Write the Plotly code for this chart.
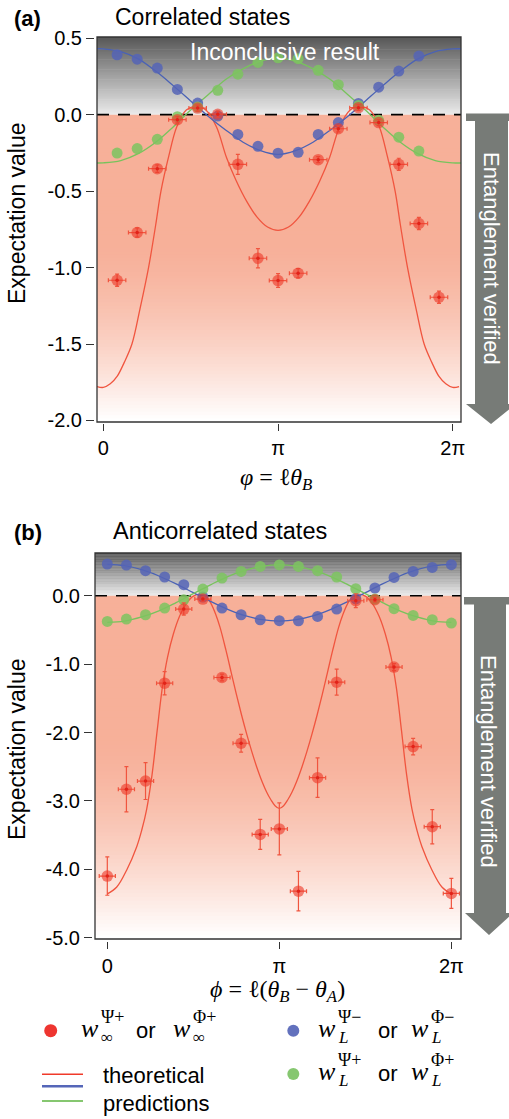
import plotly.graph_objects as go

W, H = 509, 1119

# ---------------- data (x in units of pi) ----------------
# panel (a) correlated states
xa_red = [0.079, 0.194, 0.309, 0.424, 0.540, 0.655, 0.770, 0.885, 1.0, 1.115, 1.230,
          1.345, 1.460, 1.576, 1.691, 1.806, 1.921]
ya_red = [-1.083, -0.771, -0.353, -0.033, 0.043, 0.003, -0.325, -0.939, -1.085, -1.037,
          -0.294, -0.092, 0.046, -0.052, -0.325, -0.712, -1.194]
ea_red = [0.04, 0.03, 0.025, 0.02, 0.02, 0.02, 0.065, 0.063, 0.045, 0.03, 0.02, 0.02,
          0.02, 0.02, 0.04, 0.04, 0.04]
xa_L = [0.079, 0.194, 0.309, 0.424, 0.540, 0.655, 0.770, 0.885, 1.0, 1.115, 1.230,
        1.345, 1.460, 1.576, 1.691, 1.806]
ya_blue = [0.392, 0.363, 0.305, 0.165, 0.076, -0.009, -0.129, -0.207, -0.252, -0.246,
           -0.129, -0.052, 0.073, 0.18, 0.285, 0.383]
ya_green = [-0.251, -0.222, -0.161, -0.013, 0.05, 0.159, 0.265, 0.342, 0.372, 0.366,
            0.29, 0.196, 0.06, -0.037, -0.147, -0.238]

# theory (a)
ta_red_x = [-0.036, 0.0, 0.04, 0.08, 0.12, 0.164, 0.21, 0.259, 0.30, 0.33, 0.375, 0.42,
            0.475, 0.535, 0.59, 0.648, 0.705, 0.76, 0.82, 0.88, 0.94, 1.0,
            1.06, 1.12, 1.18, 1.24, 1.295, 1.352, 1.41, 1.465, 1.525, 1.58, 1.625, 1.67,
            1.70, 1.741, 1.79, 1.836, 1.88, 1.92, 1.96, 2.0, 2.036]
ta_red_y = [-1.778, -1.784, -1.76, -1.71, -1.62, -1.50, -1.27, -1.00, -0.72, -0.50, -0.27,
            -0.08, 0.03, 0.054, 0.028, -0.08, -0.28, -0.43, -0.565, -0.67, -0.735, -0.757,
            -0.735, -0.67, -0.565, -0.43, -0.28, -0.08, 0.028, 0.054, 0.03, -0.08, -0.27,
            -0.50, -0.72, -1.00, -1.27, -1.50, -1.62, -1.71, -1.76, -1.784, -1.778]
ta_x = [-0.036, 0.0, 0.1, 0.2, 0.3, 0.4, 0.5, 0.6, 0.7, 0.8, 0.9, 1.0, 1.1, 1.2, 1.3,
        1.4, 1.5, 1.6, 1.7, 1.8, 1.9, 2.0, 2.047]
ta_blue_y = [0.432, 0.43, 0.413, 0.365, 0.285, 0.19, 0.09, -0.01, -0.10, -0.18, -0.235,
             -0.26, -0.235, -0.18, -0.10, -0.01, 0.09, 0.19, 0.285, 0.365, 0.413, 0.43, 0.431]
ta_green_y = [-0.316, -0.315, -0.30, -0.255, -0.18, -0.08, 0.03, 0.13, 0.23, 0.30, 0.35,
              0.37, 0.35, 0.30, 0.23, 0.13, 0.03, -0.08, -0.18, -0.255, -0.30, -0.315, -0.316]

# panel (b) anticorrelated states
xb = [k / 9 for k in range(19)]
yb_red = [-4.10, -2.83, -2.71, -1.279, -0.195, -0.049, -1.196, -2.157, -3.49, -3.41,
          -4.32, -2.66, -1.264, -0.073, -0.059, -1.044, -2.206, -3.378, -4.353]
eb_red = [0.28, 0.33, 0.27, 0.17, 0.09, 0.03, 0.05, 0.13, 0.22, 0.38, 0.29, 0.29, 0.19,
          0.10, 0.03, 0.05, 0.12, 0.25, 0.22]
yb_blue = [0.464, 0.449, 0.366, 0.274, 0.161, -0.02, -0.18, -0.278, -0.351, -0.365,
           -0.366, -0.303, -0.195, -0.044, 0.113, 0.268, 0.356, 0.414, 0.454]
yb_green = [-0.375, -0.341, -0.278, -0.18, -0.059, 0.098, 0.259, 0.356, 0.429, 0.45,
            0.429, 0.366, 0.274, 0.102, -0.048, -0.19, -0.288, -0.351, -0.40]

tb_red_x = [0.0, 0.055, 0.113, 0.171, 0.20, 0.229, 0.26, 0.29, 0.32, 0.35, 0.384, 0.42,
            0.46, 0.50, 0.54, 0.57, 0.60, 0.63, 0.655, 0.69, 0.72, 0.75, 0.78, 0.81,
            0.84, 0.868, 0.90, 0.926, 0.95, 0.975, 1.0,
            1.025, 1.05, 1.074, 1.10, 1.132, 1.16, 1.19, 1.22, 1.25, 1.28, 1.31, 1.345,
            1.37, 1.40, 1.43, 1.46, 1.50, 1.54, 1.58, 1.616, 1.65, 1.68, 1.71, 1.74,
            1.771, 1.80, 1.829, 1.887, 1.945, 2.0]
tb_red_y = [-4.36, -4.26, -4.01, -3.67, -3.43, -3.12, -2.62, -1.97, -1.34, -0.90, -0.56,
            -0.30, -0.11, -0.005, 0.025, 0.0, -0.10, -0.27, -0.46, -0.80, -1.12, -1.44,
            -1.74, -2.02, -2.28, -2.50, -2.72, -2.87, -2.98, -3.07, -3.11,
            -3.07, -2.98, -2.87, -2.72, -2.50, -2.28, -2.02, -1.74, -1.44, -1.12, -0.80,
            -0.46, -0.27, -0.10, 0.0, 0.025, -0.005, -0.11, -0.30, -0.56, -0.90, -1.34,
            -1.97, -2.62, -3.12, -3.43, -3.67, -4.01, -4.26, -4.36]
tb_x = [0.0, 0.1, 0.2, 0.3, 0.4, 0.5, 0.6, 0.7, 0.8, 0.9, 1.0, 1.1, 1.2, 1.3, 1.4, 1.5,
        1.6, 1.7, 1.8, 1.9, 2.0]
tb_blue_y = [0.46, 0.44, 0.381, 0.289, 0.173, 0.045, -0.083, -0.199, -0.291, -0.35, -0.37,
             -0.35, -0.291, -0.199, -0.083, 0.045, 0.173, 0.289, 0.381, 0.44, 0.46]
tb_green_y = [-0.39, -0.37, -0.31, -0.22, -0.10, 0.03, 0.16, 0.28, 0.37, 0.43, 0.45,
              0.43, 0.37, 0.28, 0.16, 0.03, -0.10, -0.22, -0.31, -0.37, -0.39]

x_tickvals = [0, 1, 2]
x_ticktext = ["0", "π", "2π"]
ya_tickvals = [0.5, 0.0, -0.5, -1.0, -1.5, -2.0]
ya_ticktext = ["0.5", "0.0", "-0.5", "-1.0", "-1.5", "-2.0"]
yb_tickvals = [0.0, -1.0, -2.0, -3.0, -4.0, -5.0]
yb_ticktext = ["0.0", "-1.0", "-2.0", "-3.0", "-4.0", "-5.0"]

# ---------------- styling ----------------
SANS = "Liberation Sans, Arial, Helvetica, sans-serif"
SERIF = "Liberation Serif, DejaVu Serif, Times New Roman, serif"
RED_LINE = "#f0553f"
BLUE_LINE = "#4a62b5"
GREEN_LINE = "#78c35c"
RED_PT = "rgba(238,58,42,0.62)"
RED_DOT = "rgb(225,35,25)"
BLUE_PT = "rgba(85,100,182,0.85)"
GREEN_PT = "rgba(125,196,95,0.85)"
ARROW = "#777b77"


def X(px):
    return px / W


def Y(py):
    return 1 - py / H


fig = go.Figure()


def add_set(xr, yr, red_x, red_y, red_e, red_ex, L_x, blue_y, green_y,
            tr_x, tr_y, t_x, tb_y, tg_y):
    fig.add_trace(go.Scatter(x=tr_x, y=tr_y, mode="lines",
                             line=dict(color=RED_LINE, width=1.3, shape="spline", smoothing=1.0),
                             xaxis=xr, yaxis=yr, hoverinfo="skip"))
    fig.add_trace(go.Scatter(x=t_x, y=tb_y, mode="lines",
                             line=dict(color=BLUE_LINE, width=1.3, shape="spline"),
                             xaxis=xr, yaxis=yr, hoverinfo="skip"))
    fig.add_trace(go.Scatter(x=t_x, y=tg_y, mode="lines",
                             line=dict(color=GREEN_LINE, width=1.3, shape="spline"),
                             xaxis=xr, yaxis=yr, hoverinfo="skip"))
    fig.add_trace(go.Scatter(x=L_x, y=blue_y, mode="markers", marker=dict(color=BLUE_PT, size=11),
                             xaxis=xr, yaxis=yr))
    fig.add_trace(go.Scatter(x=L_x, y=green_y, mode="markers", marker=dict(color=GREEN_PT, size=11),
                             xaxis=xr, yaxis=yr))
    fig.add_trace(go.Scatter(x=red_x, y=red_y, mode="markers", marker=dict(color=RED_PT, size=11.5),
                             error_y=dict(type="data", array=red_e, color=RED_LINE, thickness=1.2, width=2),
                             error_x=dict(type="constant", value=red_ex, color=RED_LINE, thickness=1.2, width=2),
                             xaxis=xr, yaxis=yr))
    fig.add_trace(go.Scatter(x=red_x, y=red_y, mode="markers", marker=dict(color=RED_DOT, size=3.5),
                             xaxis=xr, yaxis=yr))


add_set("x", "y", xa_red, ya_red, ea_red, 0.05, xa_L, ya_blue, ya_green,
        ta_red_x, ta_red_y, ta_x, ta_blue_y, ta_green_y)
add_set("x2", "y2", xb, yb_red, eb_red, 0.047, xb, yb_blue, yb_green,
        tb_red_x, tb_red_y, tb_x, tb_blue_y, tb_green_y)

shapes = []


def lerp(c1, c2, t):
    return tuple(c1[i] + (c2[i] - c1[i]) * t for i in range(3))


def rgb(c):
    return "rgb(%d,%d,%d)" % tuple(int(round(v)) for v in c)


GRAY_TOP = (88, 88, 88)
GRAY_BOT = (234, 234, 234)
SALMON = (247, 176, 153)
WHITE = (255, 255, 255)


def gradient(xref, yref, ytop, ybot):
    n = 70
    h = ytop / n
    for i in range(n):
        y1 = ytop - i * h
        y0 = max(y1 - h * 1.6, 0)
        t = i / (n - 1)
        shapes.append(dict(type="rect", xref=xref, yref=yref, x0=0, x1=1, y0=y0, y1=y1,
                           fillcolor=rgb(lerp(GRAY_TOP, GRAY_BOT, t)), line=dict(width=0), layer="below"))
    m = 90
    h = -ybot / m
    for i in range(m):
        y1 = -i * h
        y0 = max(y1 - h * 1.6, ybot)
        t = i / (m - 1)
        s = 0.0 if t < 0.42 else ((t - 0.42) / 0.58) ** 1.5
        shapes.append(dict(type="rect", xref=xref, yref=yref, x0=0, x1=1, y0=y0, y1=y1,
                           fillcolor=rgb(lerp(SALMON, WHITE, s)), line=dict(width=0), layer="below"))
    shapes.append(dict(type="line", xref=xref, yref=yref, x0=0, x1=1, y0=0, y1=0,
                       line=dict(color="black", width=1.6, dash="12px,9px"), layer="below"))


gradient("x domain", "y", 0.508, -2.01)
gradient("x2 domain", "y2", 0.625, -5.02)

# frames
for xr, yr in (("x domain", "y domain"), ("x2 domain", "y2 domain")):
    shapes.append(dict(type="rect", xref=xr, yref=yr, x0=0, x1=1, y0=0, y1=1,
                       line=dict(color="#333333", width=1.3), layer="above"))


def arrow(top, bot_head, tip, xl_bar, x_shaft_l, x_shaft_r, x_head_l, x_head_r, x_tip, bar_h):
    path = ("M {a},{b} L {c},{b} L {c},{d} L {e},{d} L {e},{f} L {g},{f} L {h},{i} L {j},{f} "
            "L {k},{f} L {k},{d} L {a},{d} Z").format(
        a=X(xl_bar), b=Y(top), c=X(515), d=Y(top + bar_h), e=X(x_shaft_r), f=Y(bot_head),
        g=X(x_head_r), h=X(x_tip), i=Y(tip), j=X(x_head_l), k=X(x_shaft_l))
    shapes.append(dict(type="path", xref="paper", yref="paper", path=path,
                       fillcolor=ARROW, line=dict(width=0), layer="above"))


arrow(113.5, 404, 424, 466, 475, 508, 466, 516, 491, 7.5)
arrow(597, 913, 935, 464, 474, 506, 465, 513, 489, 7.5)

# legend shapes
for cx, cy, r, col in ((50.7, 1030.7, 6.5, "#ee3530"), (293.3, 1030.7, 6, "#6271bd"),
                       (293.3, 1074, 6, "#86c770")):
    shapes.append(dict(type="circle", xref="paper", yref="paper", x0=X(cx - r), x1=X(cx + r),
                       y0=Y(cy + r), y1=Y(cy - r), fillcolor=col, line=dict(width=0)))
for yy, col, wd in ((1074.3, "#f03a2a", 1.5), (1086.3, "#5566b8", 2.5), (1101, "#86c770", 2.2)):
    shapes.append(dict(type="line", xref="paper", yref="paper", x0=X(42), x1=X(83), y0=Y(yy), y1=Y(yy),
                       line=dict(color=col, width=wd)))

ann = []


def txt(s, px, py, size=23, color="black", family=SANS, xanchor="left", angle=0):
    ann.append(dict(text=s, x=X(px), y=Y(py), xref="paper", yref="paper", showarrow=False,
                    xanchor=xanchor, yanchor="middle", textangle=angle,
                    font=dict(size=size, color=color, family=family)))


txt("<b>(a)</b>", 12, 18, 22)
txt("Correlated states", 113, 17, 23)
txt("<b>(b)</b>", 12, 532, 22)
txt("Anticorrelated states", 111, 531, 23.5)
txt("Inconclusive result", 285, 52, 23, "white", xanchor="center")
txt("Expectation value", 17, 213, 23, xanchor="center", angle=-90)
txt("Expectation value", 17, 749, 23, xanchor="center", angle=-90)
txt("Entanglement verified", 491, 258, 22, "white", xanchor="center", angle=90)
txt("Entanglement verified", 489, 761, 22, "white", xanchor="center", angle=90)
txt("<i>φ</i> = ℓ<i>θ</i><sub><i>B</i></sub>", 276, 479, 24, family=SERIF, xanchor="center")
txt("<i>ϕ</i> = ℓ(<i>θ</i><sub><i>B</i></sub> − <i>θ</i><sub><i>A</i></sub>)", 277, 991, 24,
    family=SERIF, xanchor="center")


def wsym(px, py, sup, sub):
    txt("<i>w</i>", px, py, 26, family=SERIF)
    txt(sup, px + 20, py - 11, 18, family=SERIF)
    txt(sub, px + 20, py + 9, 17, family=SERIF)


wsym(79, 1028, "Ψ+", "∞")
txt("or", 134, 1030, 22)
wsym(171, 1028, "Φ+", "∞")
wsym(316, 1028, "Ψ−", "<i>L</i>")
txt("or", 376, 1030, 22)
wsym(409, 1028, "Φ−", "<i>L</i>")
wsym(316, 1071, "Ψ+", "<i>L</i>")
txt("or", 376, 1073, 22)
wsym(409, 1071, "Φ+", "<i>L</i>")
txt("theoretical", 101, 1075, 22)
txt("predictions", 101, 1103, 22)

axis_common = dict(showgrid=False, zeroline=False, showline=False, ticks="outside",
                   tickcolor="#333333", tickwidth=1.2, automargin=False,
                   tickfont=dict(size=20, family=SANS, color="black"))

fig.update_layout(
    width=W, height=H, margin=dict(l=0, r=0, t=0, b=0, pad=0, autoexpand=False), showlegend=False,
    paper_bgcolor="white", plot_bgcolor="white",
    xaxis=dict(domain=[X(97), X(461)], range=[-0.036, 2.047], anchor="free", position=Y(423),
               tickvals=x_tickvals, ticktext=x_ticktext, ticklen=7, **axis_common),
    yaxis=dict(domain=[Y(422), Y(37)], range=[-2.01, 0.508], anchor="free", position=X(94),
               tickvals=ya_tickvals, ticktext=ya_ticktext, ticklen=8, **axis_common),
    xaxis2=dict(domain=[X(95), X(461)], range=[-0.0715, 2.056], anchor="free", position=Y(941),
                tickvals=x_tickvals, ticktext=x_ticktext, ticklen=7, **axis_common),
    yaxis2=dict(domain=[Y(939), Y(553)], range=[-5.02, 0.625], anchor="free", position=X(92),
                tickvals=yb_tickvals, ticktext=yb_ticktext, ticklen=8, **axis_common),
    shapes=shapes, annotations=ann,
)

fig.write_html("out.html", config={"displayModeBar": False},
               post_script="document.body.style.margin='0';document.body.style.padding='0';"
                           "document.documentElement.style.overflow='hidden';")
